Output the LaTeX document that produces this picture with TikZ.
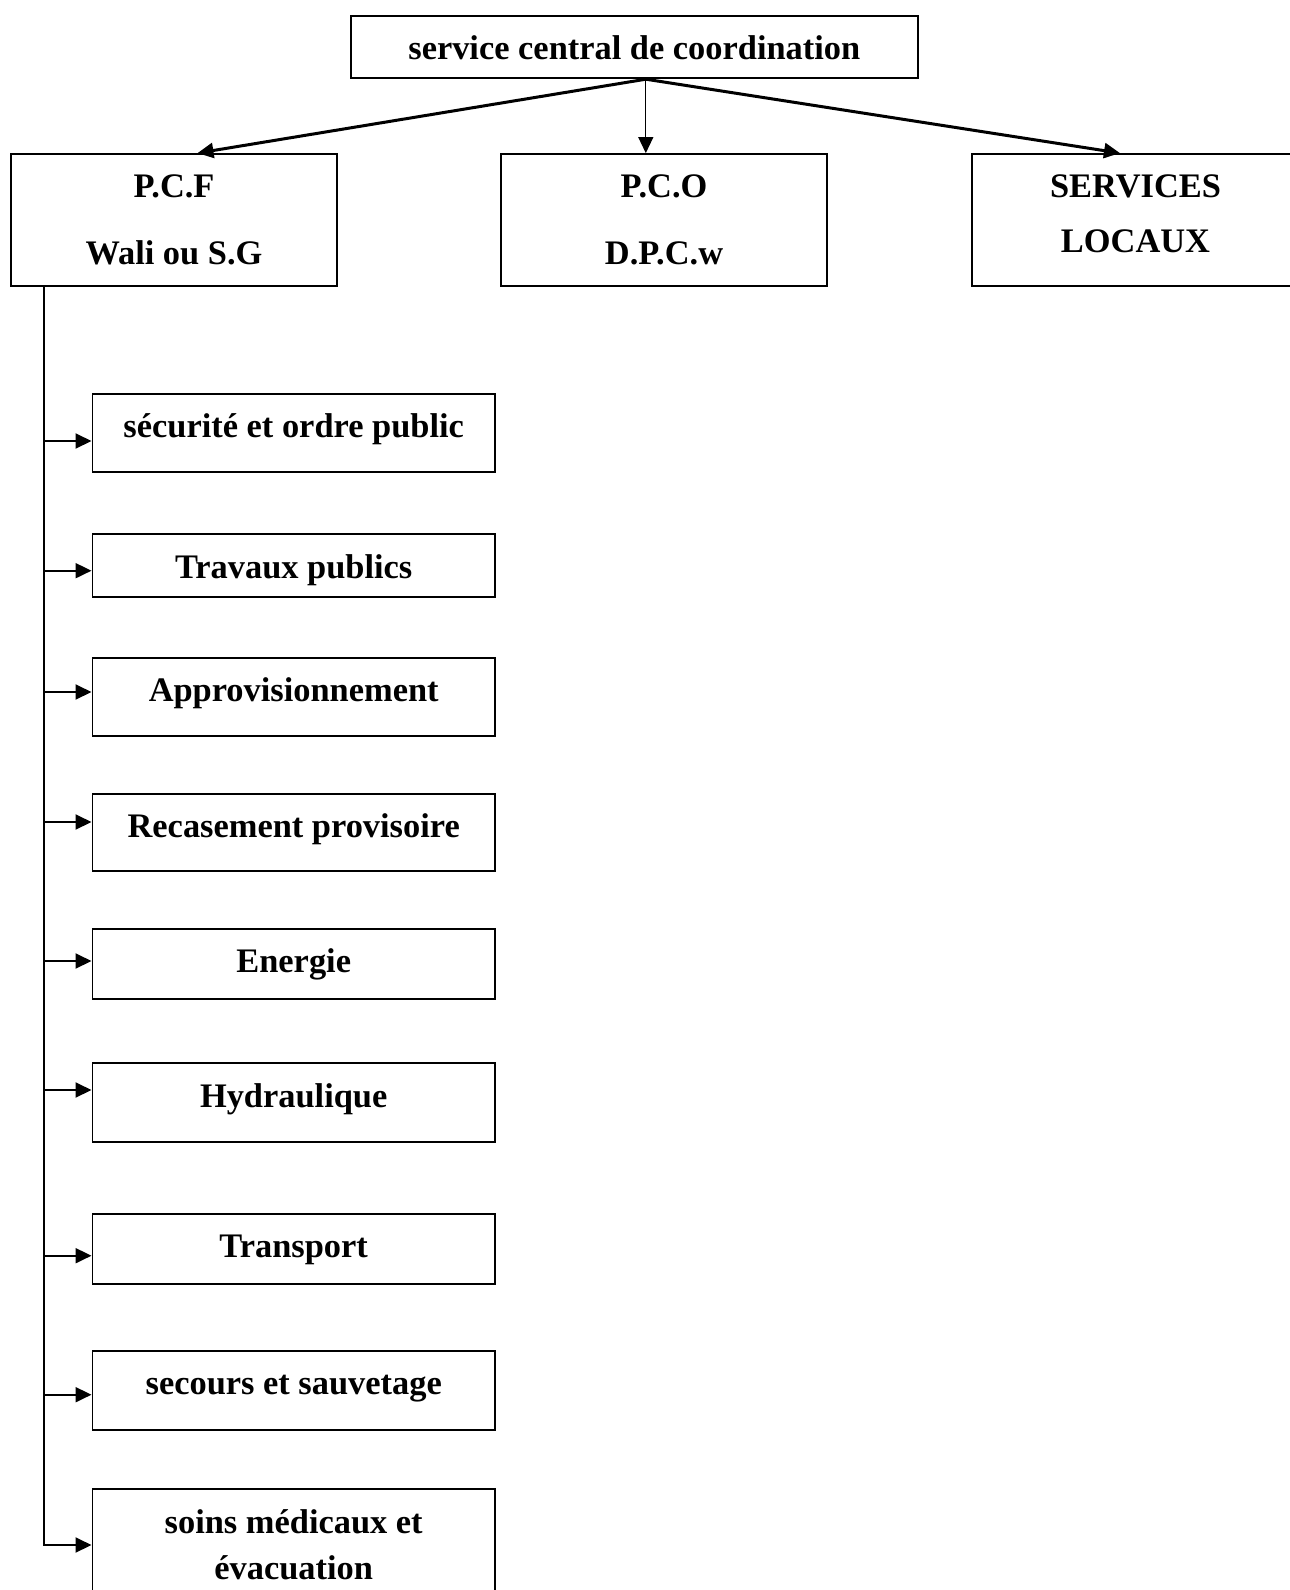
\documentclass[tikz,border=0pt]{standalone}
\usepackage{fontspec}
\setmainfont{Liberation Serif}
\usetikzlibrary{arrows.meta}
\tikzset{box/.style={draw, line width=0.9pt, minimum width=201.3pt, inner sep=0pt, font=\bfseries\fontsize{17.2}{20}\selectfont, text height=12pt, text depth=#1}, box/.default=4pt}
\tikzset{bigbox/.style={draw, line width=0.9pt, minimum width=163.3pt, minimum height=66pt, inner sep=0pt, align=center, font=\bfseries\fontsize{17.2}{33.5}\selectfont}}
\tikzset{link/.style={-{Triangle[length=8pt,width=7.5pt]}, black}}

\begin{document}
\begin{tikzpicture}[x=0.5pt,y=-0.5pt]
   \useasboundingbox (0,0) rectangle (1290,1590);
   % top level
   \node[box, text height=16pt, minimum width=283.3pt, minimum height=31.3pt] (central) at (634.3,47) {service central de coordination};
   \node[bigbox] (pcf) at (174,220) {P.C.F\\Wali ou S.G};
   \node[bigbox] (pco) at (664,220) {P.C.O\\D.P.C.w};
   \node[bigbox, text depth=6.6pt, font=\bfseries\fontsize{17.2}{27.5}\selectfont] (locaux) at (1135.5,220) {SERVICES\\LOCAUX};
   \coordinate (hub) at ([xshift=5.75pt]central.south);
   \draw[link, line width=1.5pt] (hub) -- ([xshift=11.75pt]pcf.north);
   \draw[link, line width=0.6pt] (hub) -- (hub |- pco.north);
   \draw[link, line width=1.5pt] (hub) -- ([xshift=-7.75pt]locaux.north);

   % services under the P.C.F
   \node[box=8pt, minimum height=39pt]   (secu)   at (293.7, 433)   {sécurité et ordre public};
   \node[box, text height=17pt, minimum height=31.2pt] (tp) at (293.7, 565.5) {Travaux publics};
   \node[box=8pt, minimum height=39pt]   (appro)  at (293.7, 697)   {Approvisionnement};
   \node[box=7pt, minimum height=38.5pt] (recas)  at (293.7, 832.5) {Recasement provisoire};
   \node[box, minimum height=35pt]       (energ)  at (293.7, 964)   {Energie};
   \node[box=7pt, minimum height=39.5pt] (hydro)  at (293.7,1102.5) {Hydraulique};
   \node[box, minimum height=35pt]       (transp) at (293.7,1249)   {Transport};
   \node[box=8pt, minimum height=39.6pt] (secours) at (293.7,1390.3) {secours et sauvetage};
   \node[box, minimum height=56pt, text height=, text depth=, align=center, font=\bfseries\fontsize{17.2}{23}\selectfont] (soins) at (293.7,1545) {soins médicaux et\\évacuation};

   % spine and branches
   \coordinate (spine) at ([xshift=17.2pt]pcf.south west);
   \coordinate (j1) at (45, 441);
   \coordinate (j2) at (45, 570.7);
   \coordinate (j3) at (45, 692);
   \coordinate (j4) at (45, 822);
   \coordinate (j5) at (45, 961);
   \coordinate (j6) at (45,1090);
   \coordinate (j7) at (45,1255.7);
   \coordinate (j8) at (45,1394.7);
   \draw[link, line width=1pt] (spine) |- (soins.west);
   \draw[link, line width=1pt] (j1) -- (j1 -| secu.west);
   \draw[link, line width=1pt] (j2) -- (j2 -| tp.west);
   \draw[link, line width=1pt] (j3) -- (j3 -| appro.west);
   \draw[link, line width=1pt] (j4) -- (j4 -| recas.west);
   \draw[link, line width=1pt] (j5) -- (j5 -| energ.west);
   \draw[link, line width=1pt] (j6) -- (j6 -| hydro.west);
   \draw[link, line width=1pt] (j7) -- (j7 -| transp.west);
   \draw[link, line width=1pt] (j8) -- (j8 -| secours.west);
\end{tikzpicture}
\end{document}
